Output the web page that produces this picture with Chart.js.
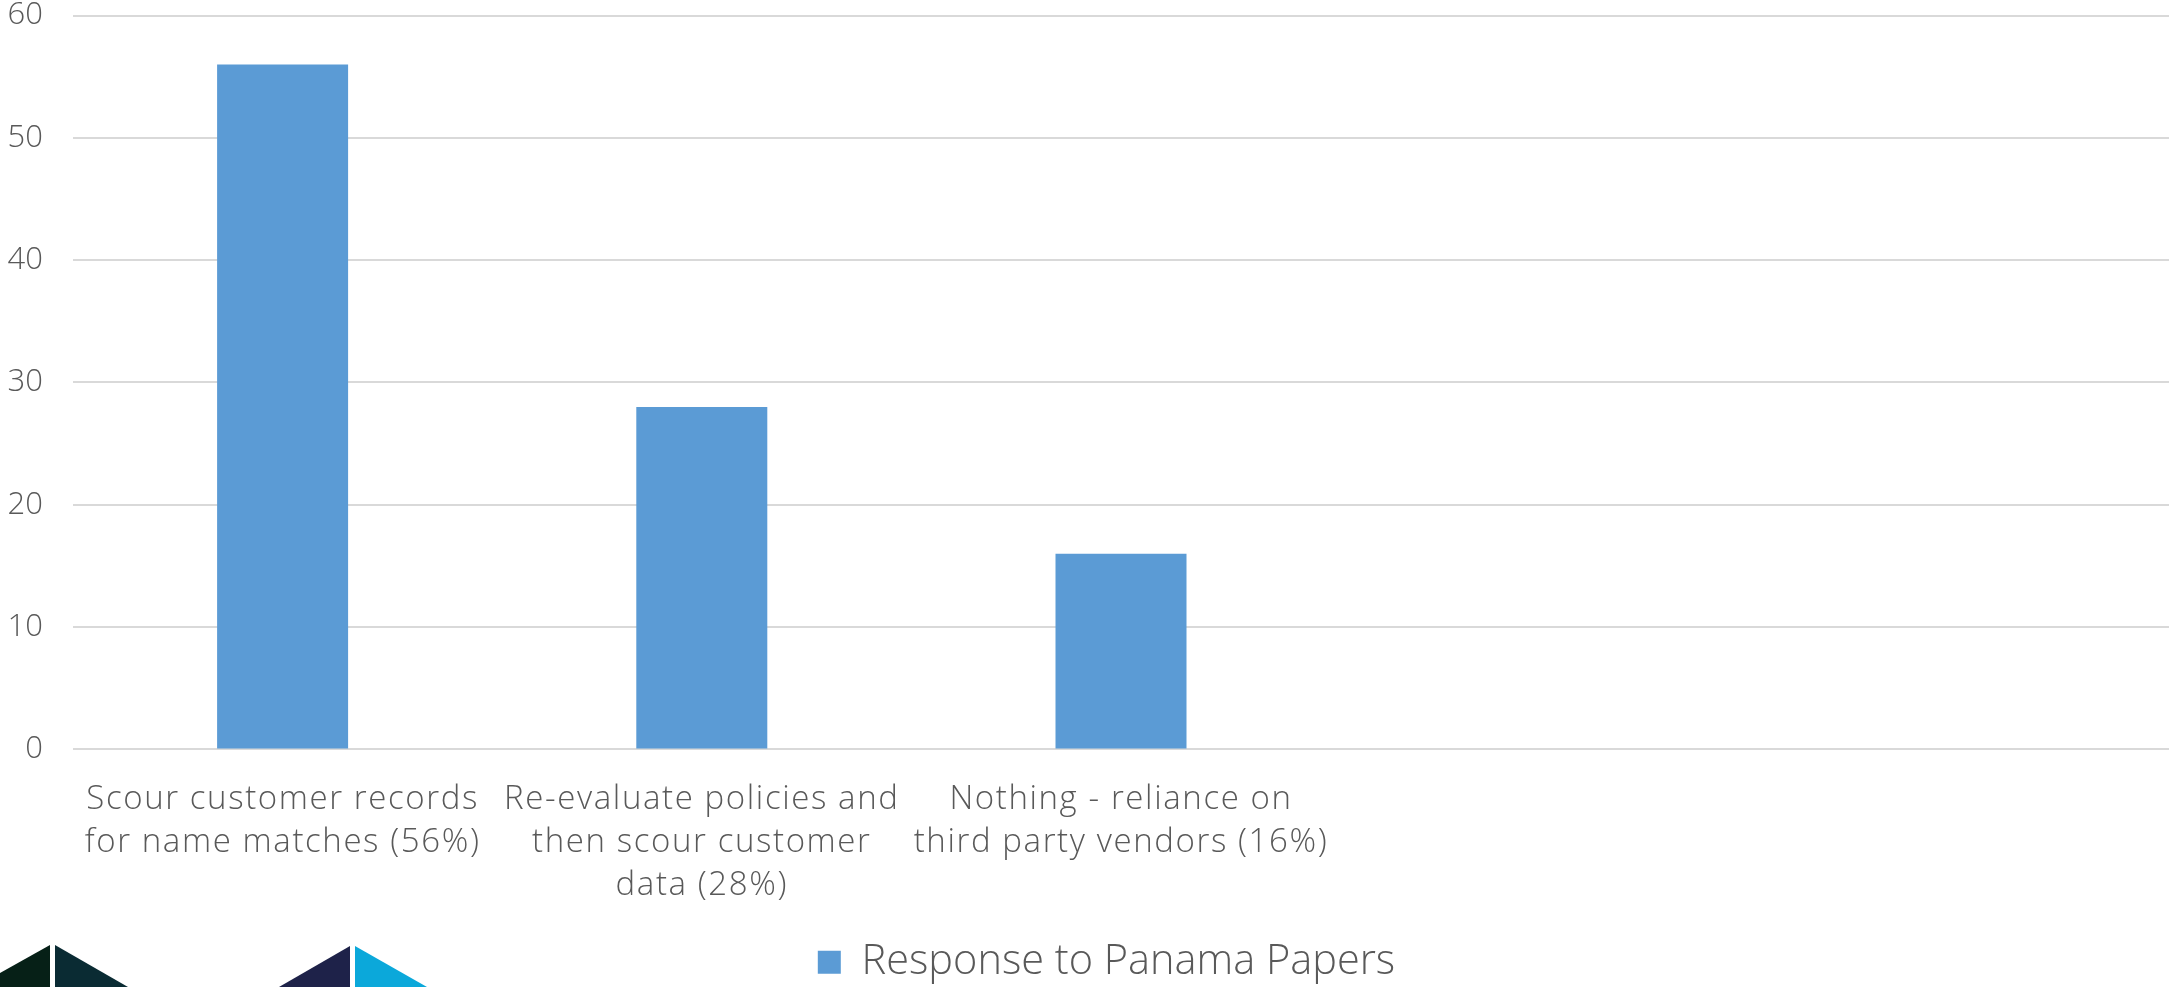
<!DOCTYPE html>
<html>
<head>
<meta charset="utf-8">
<script src="https://cdn.jsdelivr.net/npm/chart.js@4/dist/chart.umd.min.js"></script>
<style>
  html, body { margin: 0; padding: 0; background: #ffffff; }
  #wrap { position: relative; width: 2169px; height: 987px; overflow: hidden; }
  #logo { position: absolute; left: 0; top: 0; }
</style>
</head>
<body>
<div id="wrap">
  <canvas id="chart" width="2169" height="987"></canvas>
  <svg id="logo" width="2169" height="987" xmlns="http://www.w3.org/2000/svg">
    <!-- corner brand mark: two split triangles -->
    <polygon points="50,945 50,987 -25,987" fill="#062017"/>
    <polygon points="55,945 55,987 128,987" fill="#0a2b33"/>
    <polygon points="350,946 350,987 279,987" fill="#1e2249"/>
    <polygon points="355,946 355,987 427,987" fill="#0ba8da"/>
  </svg>
</div>
<script>
// Survey: how firms responded to the Panama Papers
const categories = [
  ["Scour customer records", "for name matches (56%)"],
  ["Re-evaluate policies and", "then scour customer", "data (28%)"],
  ["Nothing - reliance on", "third party vendors (16%)"],
  "",
  ""
];
const responseValues = [56, 28, 16, null, null];
const seriesName = "Response to Panama Papers";
const yTicks = [0, 10, 20, 30, 40, 50, 60];

const textColor = "#595959";
const fontFamily = "'Open Sans', Lato, sans-serif";

// Wrap a scale's label drawing so its text is tracked a little wider.
function spacedLabels(axis, spacing) {
  if (axis._spacedLabels) return;
  axis._spacedLabels = true;
  const draw = axis.drawLabels.bind(axis);
  axis.drawLabels = function (area) {
    const ctx = this.ctx;
    const prev = ctx.letterSpacing;
    ctx.letterSpacing = spacing;
    draw(area);
    ctx.letterSpacing = prev || "0px";
  };
}

// Nudge the legend a little right of centre and toward the bottom edge.
const legendShift = {
  id: "legendShift",
  afterLayout(chart) {
    const lg = chart.legend;
    if (lg) {
      lg.left += 22; lg.right += 22;
      lg.top += 6; lg.bottom += 6;
    }
  }
};

new Chart(document.getElementById("chart"), {
  type: "bar",
  data: {
    labels: categories,
    datasets: [{
      label: seriesName,
      data: responseValues,
      backgroundColor: "#5b9bd5",
      borderWidth: 0,
      categoryPercentage: 1.0,
      barPercentage: 0.3125
    }]
  },
  plugins: [legendShift],
  options: {
    responsive: false,
    animation: false,
    layout: { padding: { top: 0, right: 0, bottom: 0, left: 0 } },
    plugins: {
      tooltip: { enabled: false },
      legend: {
        position: "bottom",
        labels: {
          color: textColor,
          boxWidth: 23,
          boxHeight: 23,
          padding: 3,
          font: { family: fontFamily, size: 41.5, weight: 300 }
        }
      }
    },
    scales: {
      x: {
        grid: { display: false, drawTicks: false },
        border: { display: false },
        afterFit: (axis) => { axis.height -= 3.6; spacedLabels(axis, "1.6px"); },
        ticks: {
          color: textColor,
          maxRotation: 0,
          autoSkip: false,
          padding: 29,
          font: { family: fontFamily, size: 33, weight: 300, lineHeight: 1.3 }
        }
      },
      y: {
        min: 0,
        max: 60,
        afterBuildTicks: (axis) => { axis.ticks = yTicks.map(v => ({ value: v })); },
        afterFit: (axis) => { axis.width = 73; },
        grid: { color: "#d9d9d9", lineWidth: 2, drawTicks: true, tickLength: 30, tickColor: "rgba(0,0,0,0)" },
        border: { display: false },
        ticks: {
          color: textColor,
          padding: 0,
          font: { family: fontFamily, size: 31, weight: 300, lineHeight: 1.0 }
        }
      }
    }
  }
});
</script>
</body>
</html>
